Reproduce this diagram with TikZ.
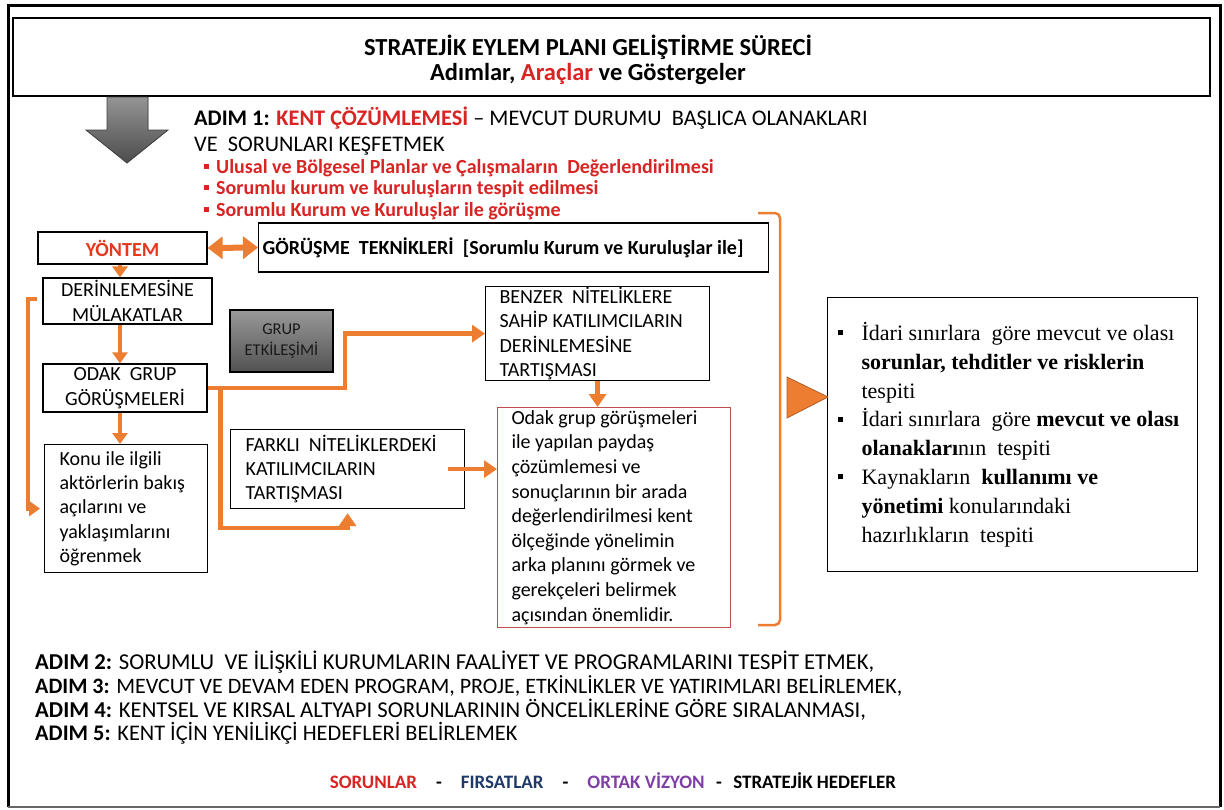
\documentclass[tikz,border=0pt]{standalone}
\usepackage{fontspec}
\setmainfont{Carlito}
\newfontfamily\timesfont{Liberation Serif}
\usepackage{xcolor}
\usepackage{tikz}
\usetikzlibrary{arrows.meta}

\definecolor{kturuncu}{HTML}{ED7D31}
\definecolor{kkirmizi}{HTML}{D92424}
\definecolor{kyontem}{HTML}{E5391F}
\definecolor{kcerceve}{HTML}{C0504D}
\definecolor{klacivert}{HTML}{1F3A68}
\definecolor{kmor}{HTML}{7F3FA5}

\newcommand{\fsz}[2]{\fontsize{#1}{#2}\selectfont}
\newcommand{\kare}{\rule[0.22em]{5pt}{5pt}\hspace{7pt}}
\newcommand{\madde}{\makebox[24pt][l]{\rule[0.24em]{5pt}{5pt}}}
\newcommand{\girinti}{\hspace*{24pt}}

\begin{document}
\begin{tikzpicture}[x = 1pt, y = -1pt,
        kutu/.style = {draw = black, line width = 1.2pt, inner sep = 0pt},
        metin/.style = {kutu, anchor = north west, align = left, inner xsep = 14pt,
            execute at begin node = {\spaceskip=0pt\xspaceskip=0pt}},
        yol/.style = {draw = kturuncu, line width = 4.5pt,
            -{Triangle[length = 13pt, width = 17pt]}},
        ok/.style = {yol, line width = 4pt, -{Triangle[length = 11pt, width = 15pt]}},
        cift/.style = {draw = kturuncu, line width = 6pt,
            {Triangle[length = 15pt, width = 22pt]}-{Triangle[length = 15pt, width = 22pt]}},
        yazi/.style = {inner sep = 0pt, anchor = west}]
            \useasboundingbox (0, 0) rectangle (1224, 809);

            % cerceve ve baslik
            \draw[line width = 3pt] (8, 807) -- (8, 5) -- (1220, 5) -- (1220, 807);
            \draw[black!60, line width = 1.5pt] (8, 807) -- (1220, 807);
            \node[kutu, minimum width = 1197pt, minimum height = 78pt] (baslik) at (611.5, 57) {};
            \node[inner sep = 0pt, align = center, font = \fsz{24.5}{25}\bfseries] (baslikyazi) at (588, 59.5)
                {STRATEJİK EYLEM PLANI GELİŞTİRME SÜRECİ\\
                 Adımlar, {\color{kkirmizi}Araçlar} ve Göstergeler};

            % gri ok
            \filldraw[top color = black!42, bottom color = black!70, draw = black!75, line width = 0.8pt]
                (107, 97) -- (148, 97) -- (148, 130) -- (168, 130) -- (127, 163)
                -- (86, 130) -- (107, 130) -- cycle;

            \node[yazi, align = left, font = \fsz{22.3}{26}] (adim1) at (194, 131)
                {\textbf{ADIM 1: {\color{kkirmizi}KENT ÇÖZÜMLEMESİ}} – MEVCUT DURUMU\ \ BAŞLICA OLANAKLARI\\
                 VE\ \ SORUNLARI KEŞFETMEK};
            \node[yazi, align = left, text = kkirmizi, font = \fsz{20}{21.5}\bfseries] (adimlar) at (204, 189.5)
                {\kare Ulusal ve Bölgesel Planlar ve Çalışmaların\ \ Değerlendirilmesi\\
                 \kare Sorumlu kurum ve kuruluşların tespit edilmesi\\
                 \kare Sorumlu Kurum ve Kuruluşlar ile görüşme};

            % sol kolon
            \coordinate (kolon) at (120, 0);
            \node[kutu, minimum width = 169pt, minimum height = 32pt, text = kyontem,
                font = \fsz{20}{24}\bfseries] (yontem) at (122.5, 248) {YÖNTEM};
            \node[metin, anchor = west, text width = 502pt, inner xsep = 4pt, minimum height = 49pt,
                font = \fsz{20}{24}\bfseries] (gorusme) at (258, 247.5)
                {GÖRÜŞME\ \ TEKNİKLERİ\ \ [Sorumlu Kurum ve Kuruluşlar ile]};
            \node[kutu, minimum width = 169pt, minimum height = 46pt, align = center,
                font = \fsz{20}{25}] (derin) at (127.5, 301) {DERİNLEMESİNE\\MÜLAKATLAR};
            \node[kutu, minimum width = 164pt, minimum height = 48pt, align = center,
                font = \fsz{20}{25}] (odak) at (125, 388) {ODAK\ \ GRUP\\GÖRÜŞMELERİ};
            \node[metin, text width = 133pt, inner xsep = 15pt, minimum height = 128pt,
                font = \fsz{20}{24.3}] (konu) at (44, 444)
                {Konu ile ilgili\\aktörlerin bakış\\açılarını ve\\yaklaşımlarını\\öğrenmek};

            % grup etkilesimi
            \node[kutu, minimum width = 103pt, minimum height = 62pt, align = center,
                top color = black!40, bottom color = black!68, text = black!90,
                font = \fsz{16.5}{21}] (grup) at (281.5, 341) {GRUP\\ETKİLEŞİMİ};

            \node[metin, text width = 196pt, minimum height = 94pt, font = \fsz{20}{24.5}] (benzer) at (485, 286)
                {BENZER\ \ NİTELİKLERE\\SAHİP KATILIMCILARIN\\DERİNLEMESİNE\\TARTIŞMASI};
            \node[metin, text width = 204pt, inner xsep = 15pt, minimum height = 79pt,
                font = \fsz{20}{24}] (farkli) at (230, 429)
                {FARKLI\ \ NİTELİKLERDEKİ\\KATILIMCILARIN\\TARTIŞMASI};
            \node[metin, draw = kcerceve, line width = 1pt, text width = 205pt, minimum height = 220pt,
                font = \fsz{20}{24.6}] (sonuc) at (497, 407)
                {Odak grup görüşmeleri\\ile yapılan paydaş\\çözümlemesi ve\\sonuçlarının bir arada\\
                 değerlendirilmesi kent\\ölçeğinde yönelimin\\arka planını görmek ve\\
                 gerekçeleri belirmek\\açısından önemlidir.};

            % sag kutu
            \node[metin, text width = 350pt, inner xsep = 10pt, minimum height = 274pt,
                font = \timesfont\fsz{22}{28.8}] (ozet) at (827, 297)
                {\madde İdari sınırlara\ \ göre mevcut ve olası\\
                 \girinti\textbf{sorunlar, tehditler ve risklerin}\\
                 \girinti tespiti\\
                 \madde İdari sınırlara\ \ göre \textbf{mevcut ve olası}\\
                 \girinti\textbf{olanakları}nın\ \ tespiti\\
                 \madde Kaynakların\ \ \textbf{kullanımı ve}\\
                 \girinti\textbf{yönetimi} konularındaki\\
                 \girinti hazırlıkların\ \ tespiti};

            % baglantilar
            \draw[cift] (yontem.east) -- (gorusme.west);
            \draw[ok] (yontem.south -| kolon) -- (derin.north -| kolon);
            \draw[ok] (derin.south -| kolon) -- (odak.north -| kolon);
            \draw[ok] (odak.south -| kolon) -- (konu.north -| kolon);
            \coordinate (kanca) at (37, 299);
            \draw[ok] (kanca) -- ++(-9, 0) |- ([xshift = -4pt]konu.west);
            \draw[yol] (odak.east) -| ([xshift = -140pt]benzer.west) -- (benzer.west);
            \coordinate (ayrim) at ([xshift = 13pt]odak.east);
            \draw[yol] (ayrim) |- ([yshift = -19pt]farkli.south) -- ([yshift = -4pt]farkli.south);
            \draw[yol] ([xshift = -17pt]farkli.east) -- (sonuc.west |- farkli.east);
            \draw[yol] (benzer.south) -- (benzer.south |- sonuc.north);

            % parantez ve ucgen
            \draw[kturuncu, line width = 2.5pt, rounded corners = 5pt]
                (758, 213) -- (780, 213) -- (780, 625) -- (758, 625);
            \filldraw[fill = kturuncu, draw = kturuncu!75!black, line width = 0.8pt]
                (787, 377) -- (828, 397) -- (787, 418) -- cycle;

            % diger adimlar
            \node[yazi, font = \fsz{22.7}{24}] (adim2) at (35, 662)
                {\textbf{ADIM 2:} SORUMLU\ \ VE İLİŞKİLİ KURUMLARIN FAALİYET VE PROGRAMLARINI TESPİT ETMEK,};
            \node[yazi, font = \fsz{22}{24}] (adim3) at (35, 686)
                {\textbf{ADIM 3:} MEVCUT VE DEVAM EDEN PROGRAM, PROJE, ETKİNLİKLER VE YATIRIMLARI BELİRLEMEK,};
            \node[yazi, font = \fsz{22.7}{24}] (adim4) at (35, 710)
                {\textbf{ADIM 4:} KENTSEL VE KIRSAL ALTYAPI SORUNLARININ ÖNCELİKLERİNE GÖRE SIRALANMASI,};
            \node[yazi, font = \fsz{22.3}{24}] (adim5) at (35, 733)
                {\textbf{ADIM 5:} KENT İÇİN YENİLİKÇİ HEDEFLERİ BELİRLEMEK};

            \node[inner sep = 0pt, font = \fsz{19}{20}\bfseries] (hedefler) at (613, 781)
                {{\color{kkirmizi}SORUNLAR}\hspace{1em}-\hspace{1em}{\color{klacivert}FIRSATLAR}%
                 \hspace{1em}-\hspace{1em}{\color{kmor}ORTAK VİZYON}\hspace{0.6em}-\hspace{0.6em}STRATEJİK HEDEFLER};
        \end{tikzpicture}
\end{document}
